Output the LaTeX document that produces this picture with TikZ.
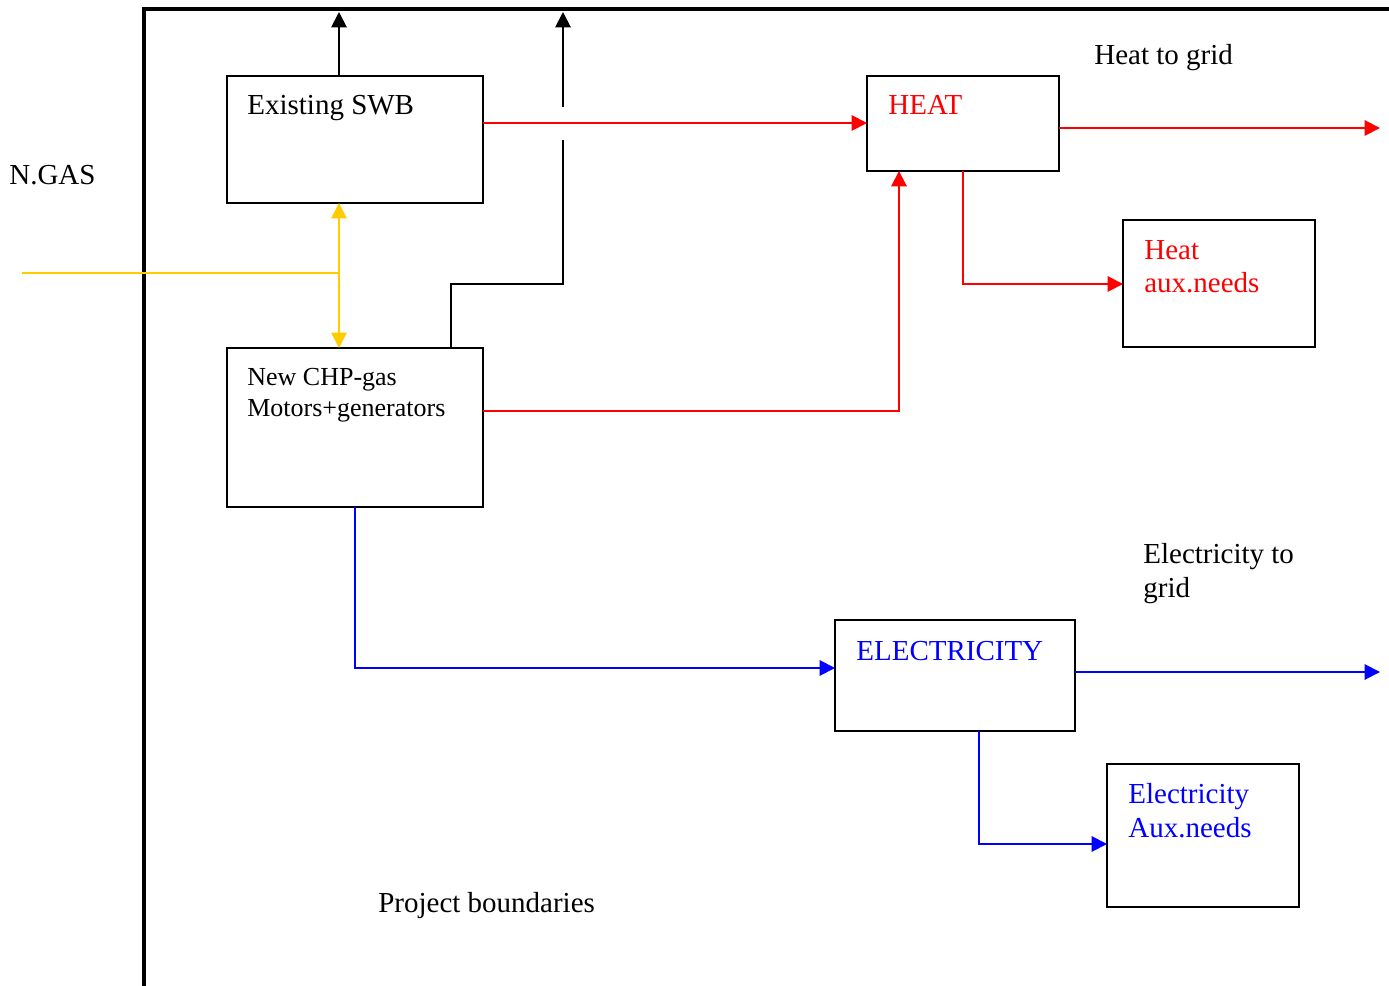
\documentclass[tikz,border=0pt]{standalone}
\usepackage{fontspec}
\setmainfont{Liberation Serif}
\usetikzlibrary{arrows.meta}
\definecolor{ngas}{RGB}{255,204,0}
\definecolor{hred}{RGB}{255,0,0}
\definecolor{eblue}{RGB}{0,0,255}
\begin{document}
\begin{tikzpicture}[x=0.02cm,y=-0.02cm,
  box/.style={draw=black, line width=1.1pt, anchor=north west, inner sep=0pt, outer sep=0pt},
  txt/.style={inner sep=0pt, anchor=base west, align=left, font=\fontsize{16.5}{19.3}\selectfont},
  smalltxt/.style={inner sep=0pt, anchor=base west, align=left, font=\fontsize{14.8}{18.2}\selectfont},
  conn/.style={line width=1.1pt},
  tip/.style={-{Triangle[length=0.31cm,width=0.31cm]}},
  dtip/.style={{Triangle[length=0.31cm,width=0.31cm]}-{Triangle[length=0.31cm,width=0.31cm]}}
]
\useasboundingbox (0,0) rectangle (1389,986);

% project boundary
\coordinate (pb1) at (144,986);
\coordinate (pb2) at (144,9);
\coordinate (pb3) at (1389,9);
\draw[line width=1.9pt] (pb1) -- (pb2) -- (pb3);

% boxes
\node[box, minimum width=5.12cm, minimum height=2.54cm] (swb) at (227,76) {};
\node[box, minimum width=5.12cm, minimum height=3.18cm] (chp) at (227,348) {};
\node[box, minimum width=3.84cm, minimum height=1.90cm] (heat) at (867,76) {};
\node[box, minimum width=3.84cm, minimum height=2.54cm] (haux) at (1123,220) {};
\node[box, minimum width=4.80cm, minimum height=2.22cm] (elec) at (835,620) {};
\node[box, minimum width=3.84cm, minimum height=2.86cm] (eaux) at (1107,764) {};

% box texts (multi-line nodes are anchored at their last baseline)
\node[txt] (tswb) at (247,115) {Existing SWB};
\node[smalltxt] (tchp) at (247,417) {New CHP-gas\\Motors+generators};
\node[txt, text=hred] (theat) at (888,115) {HEAT};
\node[txt, text=hred] (thaux) at (1144,293) {Heat\\aux.needs};
\node[txt, text=eblue] (telec) at (856,660) {ELECTRICITY};
\node[txt, text=eblue] (teaux) at (1128,837) {Electricity\\Aux.needs};

% free texts
\node[txt] (tngas) at (9,185) {N.GAS};
\node[txt] (thgrid) at (1094,65) {Heat to grid};
\node[txt] (tegrid) at (1143,597) {Electricity to\\grid};
\node[txt] (tproj) at (378,912) {Project boundaries};

% black connectors
\coordinate (t1) at (339,12);
\draw[conn, tip] (t1 |- swb.north) -- (t1);
\coordinate (t2) at (563,12);
\coordinate (j1) at (451,284);
\coordinate (g1) at (563,140);
\coordinate (g2) at (563,107);
\draw[conn] (j1 |- chp.north) -- (j1) -- (j1 -| g1) -- (g1);
\draw[conn, tip] (g2) -- (t2);

% red connectors
\coordinate (h1) at (700,123);
\draw[conn, hred, tip] (h1 -| swb.east) -- (h1 -| heat.west);
\coordinate (hg) at (1380,128);
\draw[conn, hred, tip] (heat.east |- hg) -- (hg);
\coordinate (h2) at (963,284);
\draw[conn, hred, tip] (heat.south) -- (h2) -- (h2 -| haux.west);
\coordinate (r1) at (899,411);
\draw[conn, hred, tip] (r1 -| chp.east) -- (r1) -- (r1 |- heat.south);

% gas connectors
\coordinate (ng) at (22,273);
\coordinate (yj) at (339,273);
\draw[conn, ngas] (ng) -- (yj);
\draw[conn, ngas, dtip] (yj |- swb.south) -- (yj |- chp.north);

% blue connectors
\coordinate (b1) at (355,668);
\draw[conn, eblue, tip] (chp.south) -- (b1) -- (b1 -| elec.west);
\coordinate (eg) at (1380,672);
\draw[conn, eblue, tip] (eg -| elec.east) -- (eg);
\coordinate (b2) at (979,844);
\draw[conn, eblue, tip] (b2 |- elec.south) -- (b2) -- (b2 -| eaux.west);
\end{tikzpicture}
\end{document}
